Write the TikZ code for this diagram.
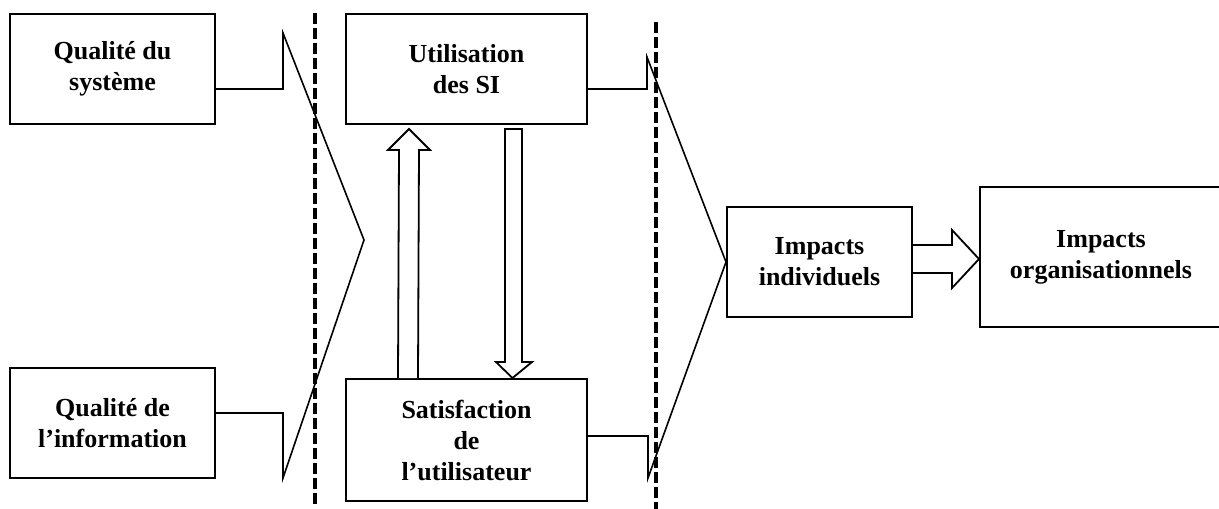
\documentclass[tikz,border=0pt]{standalone}
\usepackage{fontspec}
\setmainfont{Liberation Serif}
\usetikzlibrary{calc}
\begin{document}
\begin{tikzpicture}[x=1pt,y=-1pt,
  box/.style={draw, line width=2pt, rectangle, align=center,
    font=\fontsize{26}{31}\selectfont\bfseries, inner sep=0pt},
  link/.style={line width=1.6pt, line join=miter},
  divider/.style={line width=3.4pt, dash pattern=on 11pt off 4pt},
  blockarrow/.style={draw, line width=1.8pt, fill=white, line join=miter}]
\useasboundingbox (0,0) rectangle (1219,509);

% boxes
\node[box, minimum width=205pt, minimum height=110pt] (q1) at (112.5,69) {Qualité du\\système};
\node[box, minimum width=205pt, minimum height=110pt] (q2) at (112.5,423) {Qualité de\\l’information};
\node[box, minimum width=241pt, minimum height=110pt] (u) at (466.5,69) {Utilisation\\des SI};
\node[box, minimum width=241pt, minimum height=122pt] (s) at (466.5,440) {Satisfaction\\de\\l’utilisateur};
\node[box, minimum width=185pt, minimum height=110pt] (i) at (819.5,262) {Impacts\\individuels};
\node[box, minimum width=242pt, minimum height=140pt] (o) at (1101,257) {Impacts\\organisationnels};

% vertical dashed separators
\coordinate (d1a) at (315,13);
\coordinate (d1b) at (315,505);
\coordinate (d2a) at (656,22);
\coordinate (d2b) at (656,509);

% brace-like connectors
\coordinate (tipL) at (364,240);
\draw[link] ([yshift=-20pt]q1.east) -| (283,33) -- (tipL) -- (283,478) |- ([yshift=10pt]q2.east);
\draw[link] ([yshift=-20pt]u.east) -| (647,57) -- (i.west) -- (648,478) |- ([yshift=4pt]s.east);

\draw[divider] (d1a) -- (d1b);
\draw[divider] (d2a) -- (d2b);

% block arrows between boxes
\draw[blockarrow] ($(s.north west)+(53,0)$) -- (399,150) -- (388,150) -- (409,129)
  -- (430,150) -- (419,150) -- ($(s.north west)+(73,0)$);
\draw[blockarrow] (505,129) -- (505,362) -- (496,362) -- ($(s.north west)+(167.5,0)$)
  -- (532,362) -- (522,362) -- (522,129) -- cycle;
\draw[blockarrow] ($(i.east)+(0,-17)$) -- (952,245) -- (952,230) -- ($(o.west)+(0,2)$)
  -- (952,288) -- (952,273) -- ($(i.east)+(0,11)$);
\end{tikzpicture}
\end{document}
